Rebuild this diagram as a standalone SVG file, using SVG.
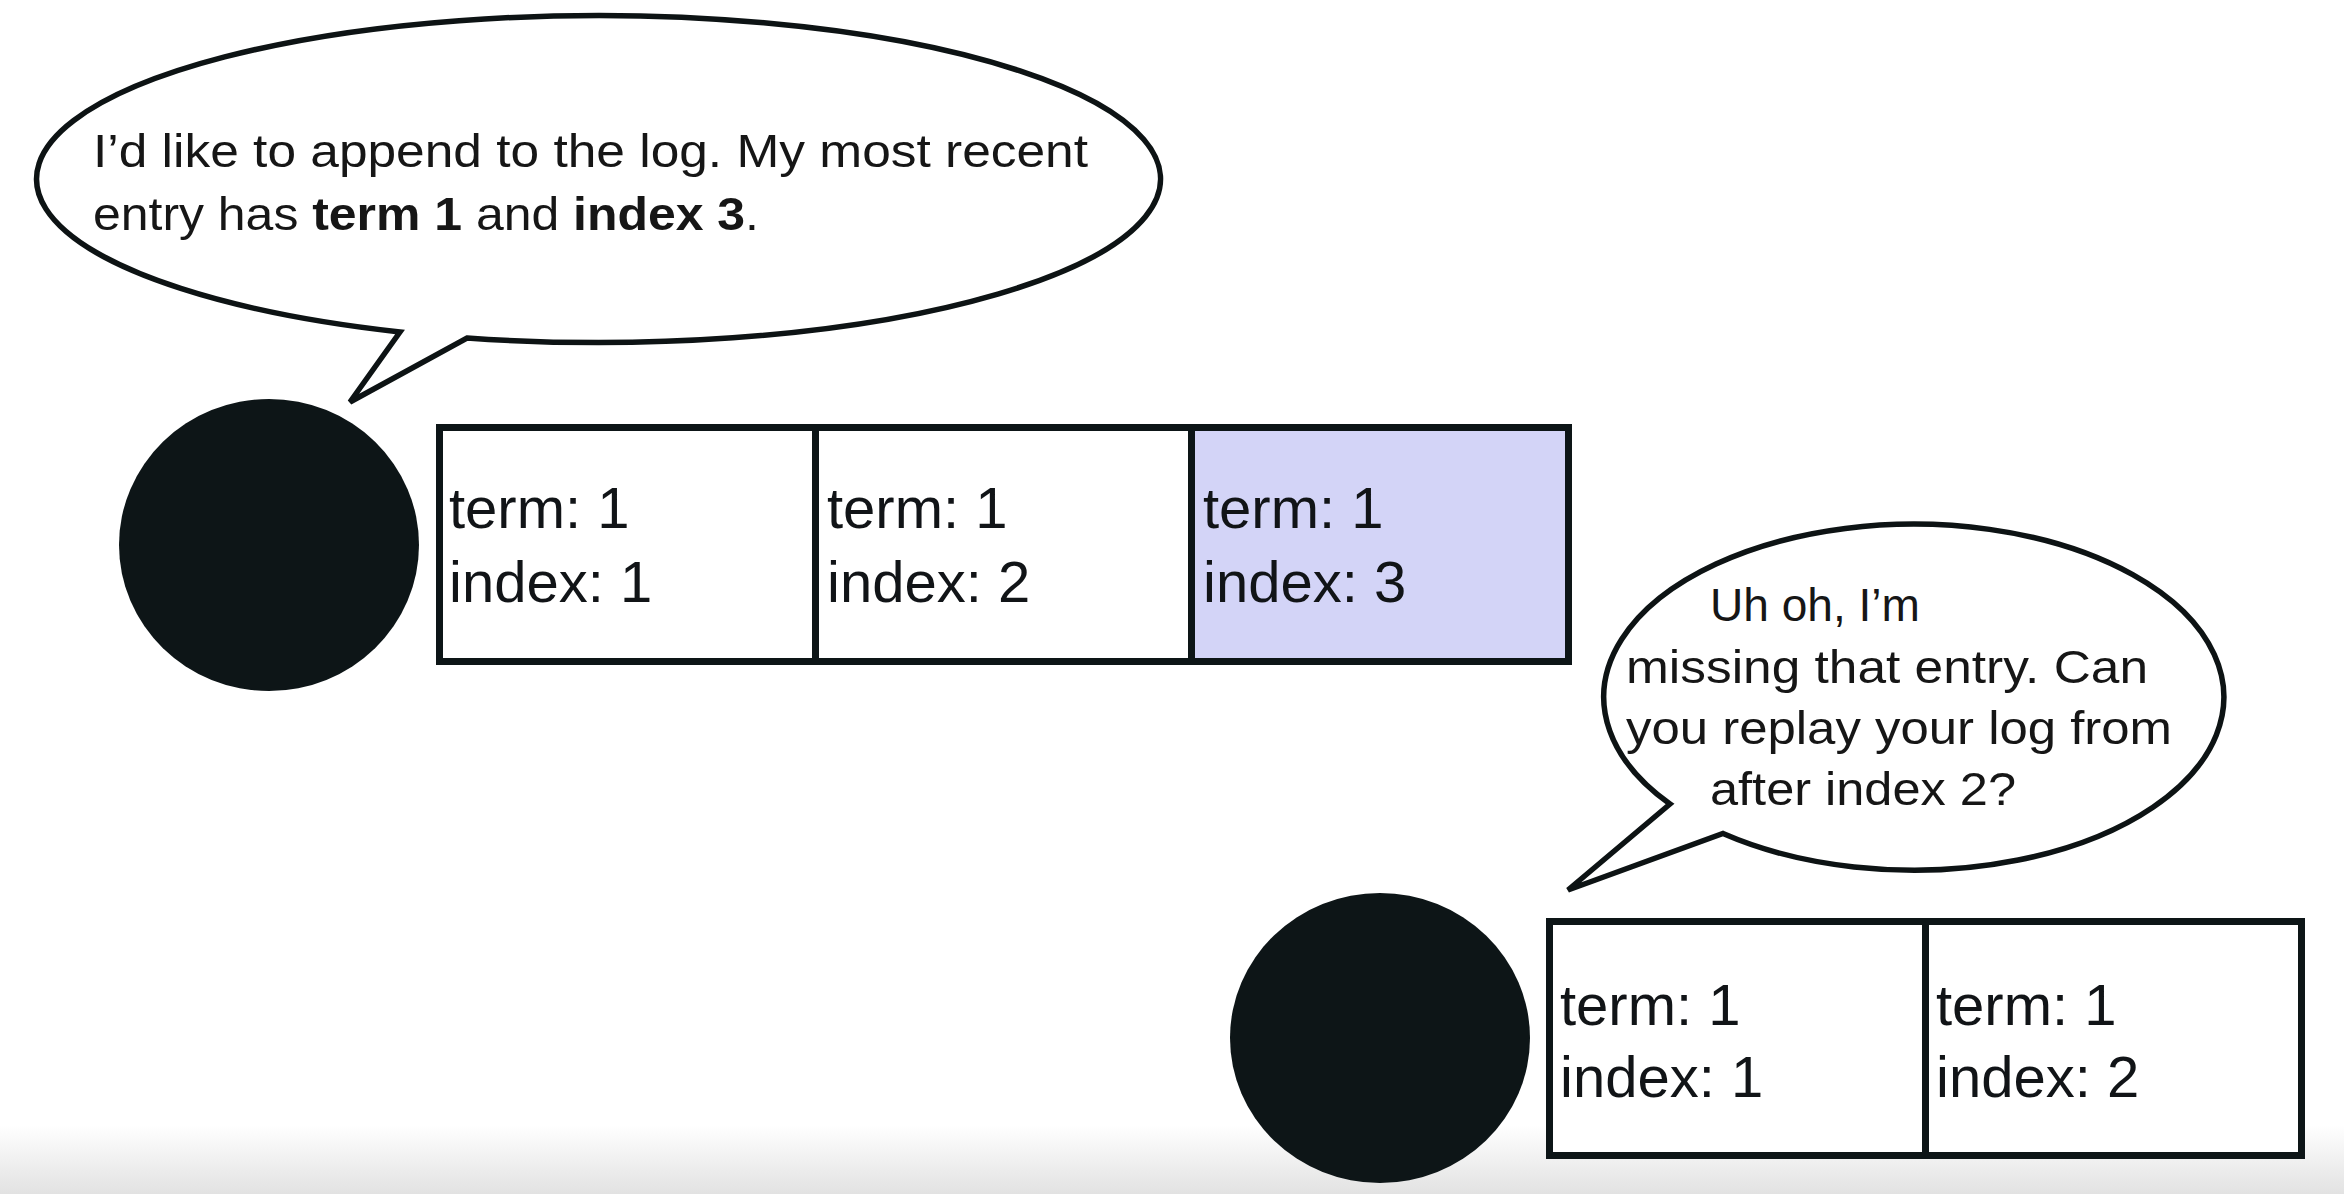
<svg xmlns="http://www.w3.org/2000/svg" width="2344" height="1194" viewBox="0 0 2344 1194">
<defs>
<linearGradient id="fade" x1="0" y1="0" x2="0" y2="1">
<stop offset="0" stop-color="#ffffff"/>
<stop offset="1" stop-color="#e2e2e2"/>
</linearGradient>
<style>
.bubble{fill:#ffffff;stroke:#0d1314;stroke-width:5.5;stroke-linejoin:miter}
.say{font-family:"Liberation Sans",Arial,sans-serif;font-size:47px;fill:#161616}
.say .b{font-weight:bold}
.cell{stroke:#0d1517;stroke-width:7}
.entry{font-family:"Liberation Sans",Arial,sans-serif;font-size:58px;fill:#111417}
.node{fill:#0d1517}
</style>
</defs>
<rect x="0" y="0" width="2344" height="1194" fill="#ffffff"/>
<rect x="0" y="1125" width="2344" height="69" fill="url(#fade)"/>

<g id="bubble-leader">
<path class="bubble" d="M400 332 L350 402 L467 338 A562 163.5 0 1 0 400 332 Z"/>
<text class="say" x="93" y="167" textLength="995" lengthAdjust="spacingAndGlyphs">I’d like to append to the log. My most recent</text>
<text class="say" x="93" y="230" textLength="666" lengthAdjust="spacingAndGlyphs">entry has <tspan class="b">term 1</tspan> and <tspan class="b">index 3</tspan>.</text>
</g>

<g id="node-leader">
<ellipse class="node" cx="269" cy="545" rx="150" ry="146"/>
</g>

<g id="log-leader">
<rect x="439.5" y="427.5" width="376" height="234" fill="#ffffff" class="cell"/>
<rect x="815.5" y="427.5" width="376" height="234" fill="#ffffff" class="cell"/>
<rect x="1191.5" y="427.5" width="377" height="234" fill="#d3d4f7" class="cell"/>
<text class="entry" x="449" y="528">term: 1</text>
<text class="entry" x="449" y="602">index: 1</text>
<text class="entry" x="827" y="528">term: 1</text>
<text class="entry" x="827" y="602">index: 2</text>
<text class="entry" x="1203" y="528">term: 1</text>
<text class="entry" x="1203" y="602">index: 3</text>
</g>

<g id="bubble-follower">
<path class="bubble" d="M1670 804 L1568 890 L1723 833.5 A310 173 0 1 0 1670 804 Z"/>
<text class="say" x="1710" y="621" textLength="210" lengthAdjust="spacingAndGlyphs">Uh oh, I’m</text>
<text class="say" x="1626" y="683" textLength="522" lengthAdjust="spacingAndGlyphs">missing that entry. Can</text>
<text class="say" x="1626" y="744" textLength="546" lengthAdjust="spacingAndGlyphs">you replay your log from</text>
<text class="say" x="1710" y="805" textLength="306" lengthAdjust="spacingAndGlyphs">after index 2?</text>
</g>

<g id="node-follower">
<ellipse class="node" cx="1380" cy="1038" rx="150" ry="145"/>
</g>

<g id="log-follower">
<rect x="1549.5" y="921.5" width="376" height="234" fill="#ffffff" class="cell"/>
<rect x="1925.5" y="921.5" width="376" height="234" fill="#ffffff" class="cell"/>
<text class="entry" x="1560" y="1025">term: 1</text>
<text class="entry" x="1560" y="1097">index: 1</text>
<text class="entry" x="1936" y="1025">term: 1</text>
<text class="entry" x="1936" y="1097">index: 2</text>
</g>

<g id="connectors"></g>
</svg>
